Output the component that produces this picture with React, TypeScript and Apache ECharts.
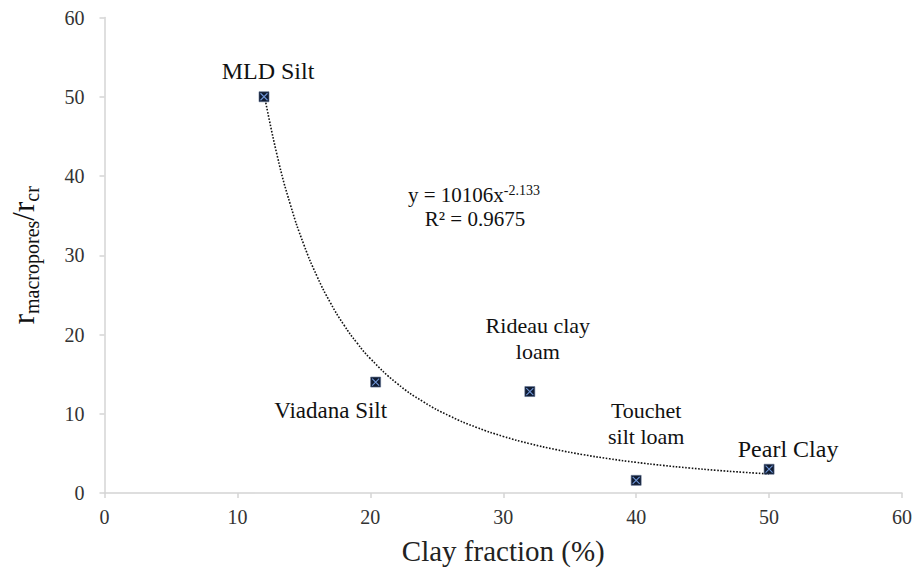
import React, { useEffect, useRef } from "react";
import * as echarts from "echarts";

// ---- data ----
const SOIL_NAMES = ["MLD Silt", "Viadana Silt", "Rideau clay\nloam", "Touchet\nsilt loam", "Pearl Clay"];
const CLAY_FRACTION = [12, 20.4, 32, 40, 50];
const RADIUS_RATIO = [50, 14, 12.8, 1.6, 3.0];

// power trendline shown on the chart: y = a * x^b
const FIT_A = 10106;
const FIT_B = -2.133;
const FIT_R2 = "0.9675";
const FIT_X = [12, 13, 14, 15, 16, 17, 18, 19, 20, 22, 24, 26, 28, 30, 32, 34, 36, 38, 40, 42, 44, 46, 48, 50];

const X_MIN = 0, X_MAX = 60, X_STEP = 10;
const Y_MIN = 0, Y_MAX = 60, Y_STEP = 10;

// ---- styling / layout (not data) ----
const FONT = "Liberation Serif";
const LABEL_STYLE = [
  { offset: [4, -26], fontSize: 24 },
  { offset: [-45, 28], fontSize: 23 },
  { offset: [8, -53], fontSize: 22 },
  { offset: [10, -57], fontSize: 22 },
  { offset: [19, -20], fontSize: 24 },
];

export default function App() {
  const ref = useRef<HTMLDivElement>(null);
  useEffect(() => {
    if (!ref.current) return;
    const chart = echarts.init(ref.current, undefined, { renderer: "svg" });
    const points = CLAY_FRACTION.map((x, i) => ({
      name: SOIL_NAMES[i],
      value: [x, RADIUS_RATIO[i]],
      label: {
        show: true,
        position: "inside",
        offset: LABEL_STYLE[i].offset,
        formatter: SOIL_NAMES[i],
        fontFamily: FONT,
        fontSize: LABEL_STYLE[i].fontSize,
        lineHeight: 26,
        color: "#111",
        align: "center",
      },
    }));
    const trend = FIT_X.map((x) => [x, FIT_A * Math.pow(x, FIT_B)]);
    chart.setOption({
      animation: false,
      backgroundColor: "#fff",
      textStyle: { fontFamily: FONT },
      grid: { left: 103.5, right: 15, top: 17.5, bottom: 82 },
      xAxis: {
        type: "value",
        min: X_MIN,
        max: X_MAX,
        interval: X_STEP,
        name: "Clay fraction (%)",
        nameLocation: "middle",
        nameGap: 43,
        nameTextStyle: { fontFamily: FONT, fontSize: 29, color: "#222" },
        axisLine: { show: true, lineStyle: { color: "#d4d4d4", width: 1.5 } },
        axisTick: { show: true, length: 5, lineStyle: { color: "#d4d4d4", width: 1.5 } },
        axisLabel: { fontFamily: FONT, fontSize: 20, color: "#333", margin: 14 },
        splitLine: { show: false },
      },
      yAxis: {
        type: "value",
        min: Y_MIN,
        max: Y_MAX,
        interval: Y_STEP,
        name: "{b|r}{s|macropores}{b|/r}{s|cr}",
        nameLocation: "middle",
        nameRotate: 90,
        nameGap: 63,
        nameTextStyle: {
          fontFamily: FONT,
          fontSize: 31,
          color: "#111",
          rich: {
            b: { fontFamily: FONT, fontSize: 31, lineHeight: 36, color: "#111" },
            s: { fontFamily: FONT, fontSize: 20, lineHeight: 18, verticalAlign: "bottom", color: "#111" },
          },
        },
        axisLine: { show: true, lineStyle: { color: "#d4d4d4", width: 1.5 } },
        axisTick: { show: true, length: 5, lineStyle: { color: "#d4d4d4", width: 1.5 } },
        axisLabel: { fontFamily: FONT, fontSize: 20, color: "#333", margin: 20 },
        splitLine: { show: false },
      },
      series: [
        {
          type: "line",
          data: trend,
          showSymbol: false,
          smooth: true,
          silent: true,
          lineStyle: { color: "#111", width: 1.6, type: [1.6, 1.6] },
          z: 2,
        },
        {
          type: "scatter",
          data: points,
          symbol: "rect",
          symbolSize: 10,
          itemStyle: { color: "#101c33", borderColor: "#5a6c8f", borderWidth: 0.6, opacity: 1 },
          z: 3,
        },
        {
          type: "scatter",
          data: CLAY_FRACTION.map((x, i) => [x, RADIUS_RATIO[i]]),
          symbol: "path://M0,0L10,10M10,0L0,10",
          symbolSize: 7,
          silent: true,
          itemStyle: { color: "none", borderColor: "#6f95d6", borderWidth: 1.1, opacity: 1 },
          z: 4,
        },
      ],
      graphic: [
        {
          type: "text",
          x: 474,
          y: 195,
          style: {
            text: "{m|y = 10106x}{p|-2.133}",
            fontFamily: FONT,
            fill: "#111",
            align: "center",
            verticalAlign: "middle",
            rich: {
              m: { fontFamily: FONT, fontSize: 21, lineHeight: 24, fill: "#111" },
              p: { fontFamily: FONT, fontSize: 14, lineHeight: 14, verticalAlign: "top", fill: "#111" },
            },
          },
        },
        {
          type: "text",
          x: 475,
          y: 219,
          style: {
            text: "R² = " + FIT_R2,
            fontFamily: FONT,
            fontSize: 21,
            fill: "#111",
            align: "center",
            verticalAlign: "middle",
          },
        },
      ],
    });
    return () => chart.dispose();
  }, []);
  return (
    <>
      <style>{".serif-chart text, .serif-chart tspan { font-family: 'Liberation Serif', 'Times New Roman', serif !important; }"}</style>
      <div
        ref={ref}
        className="serif-chart"
        style={{ position: "fixed", left: 0, top: 0, width: 917, height: 575, background: "#fff" }}
      />
    </>
  );
}
